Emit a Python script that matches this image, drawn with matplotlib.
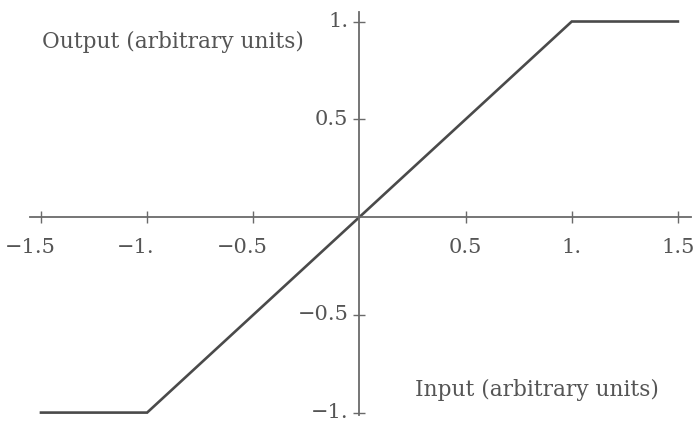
import numpy as np
import matplotlib.pyplot as plt

# clipping curve: input -> output
x_in = [-1.5, -1.0, 1.0, 1.5]
y_out = [-1.0, -1.0, 1.0, 1.0]

xticks = [-1.5, -1.0, -0.5, 0.5, 1.0, 1.5]
xlabels = ['\u22121.5', '\u22121.', '\u22120.5', '0.5', '1.', '1.5']
yticks = [-1.0, -0.5, 0.5, 1.0]
ylabels = ['\u22121.', '\u22120.5', '0.5', '1.']

plt.rcParams['font.family'] = ['DejaVu Serif']
axis_col = '#6a6a6a'
text_col = '#555555'
fs_tick = 15
fs_lab = 15.6

fig = plt.figure(figsize=(6.97, 4.21), dpi=100)
ax = fig.add_axes([0, 0, 1, 1])
ax.set_xlim(-1.693, 1.590)
ax.set_ylim(-1.043, 1.110)

ax.plot(x_in, y_out, color='#4a4a4a', lw=1.9, solid_joinstyle='miter')

# axes through the origin, mathematica style
for side in ['top', 'right']:
    ax.spines[side].set_visible(False)
ax.spines['left'].set_position(('data', 0))
ax.spines['bottom'].set_position(('data', 0))
ax.spines['bottom'].set_bounds(-1.55, 1.56)
ax.spines['left'].set_bounds(-1.01, 1.05)
for side in ['left', 'bottom']:
    ax.spines[side].set_color(axis_col)
    ax.spines[side].set_linewidth(1.3)

ax.set_xticks(xticks)
ax.set_yticks(yticks)
ax.tick_params(direction='inout', length=9, width=1.0, color=axis_col,
               labelbottom=False, labelleft=False)

# tick labels drawn by hand so the minus sign hangs to the left
for t, lab in zip(xticks, xlabels):
    dx = -8 if t < 0 else 0
    ax.annotate(lab, xy=(t, 0), xytext=(dx, -22), textcoords='offset points',
                ha='center', va='center', fontsize=fs_tick, color=text_col)
for t, lab in zip(yticks, ylabels):
    ax.annotate(lab, xy=(0, t), xytext=(-8, 0), textcoords='offset points',
                ha='right', va='center', fontsize=fs_tick, color=text_col)

ax.text(-1.495, 0.895, 'Output (arbitrary units)', fontsize=fs_lab,
        color=text_col, va='center', ha='left')
ax.text(0.26, -0.885, 'Input (arbitrary units)', fontsize=fs_lab,
        color=text_col, va='center', ha='left')

fig.savefig('out.png', dpi=100)
